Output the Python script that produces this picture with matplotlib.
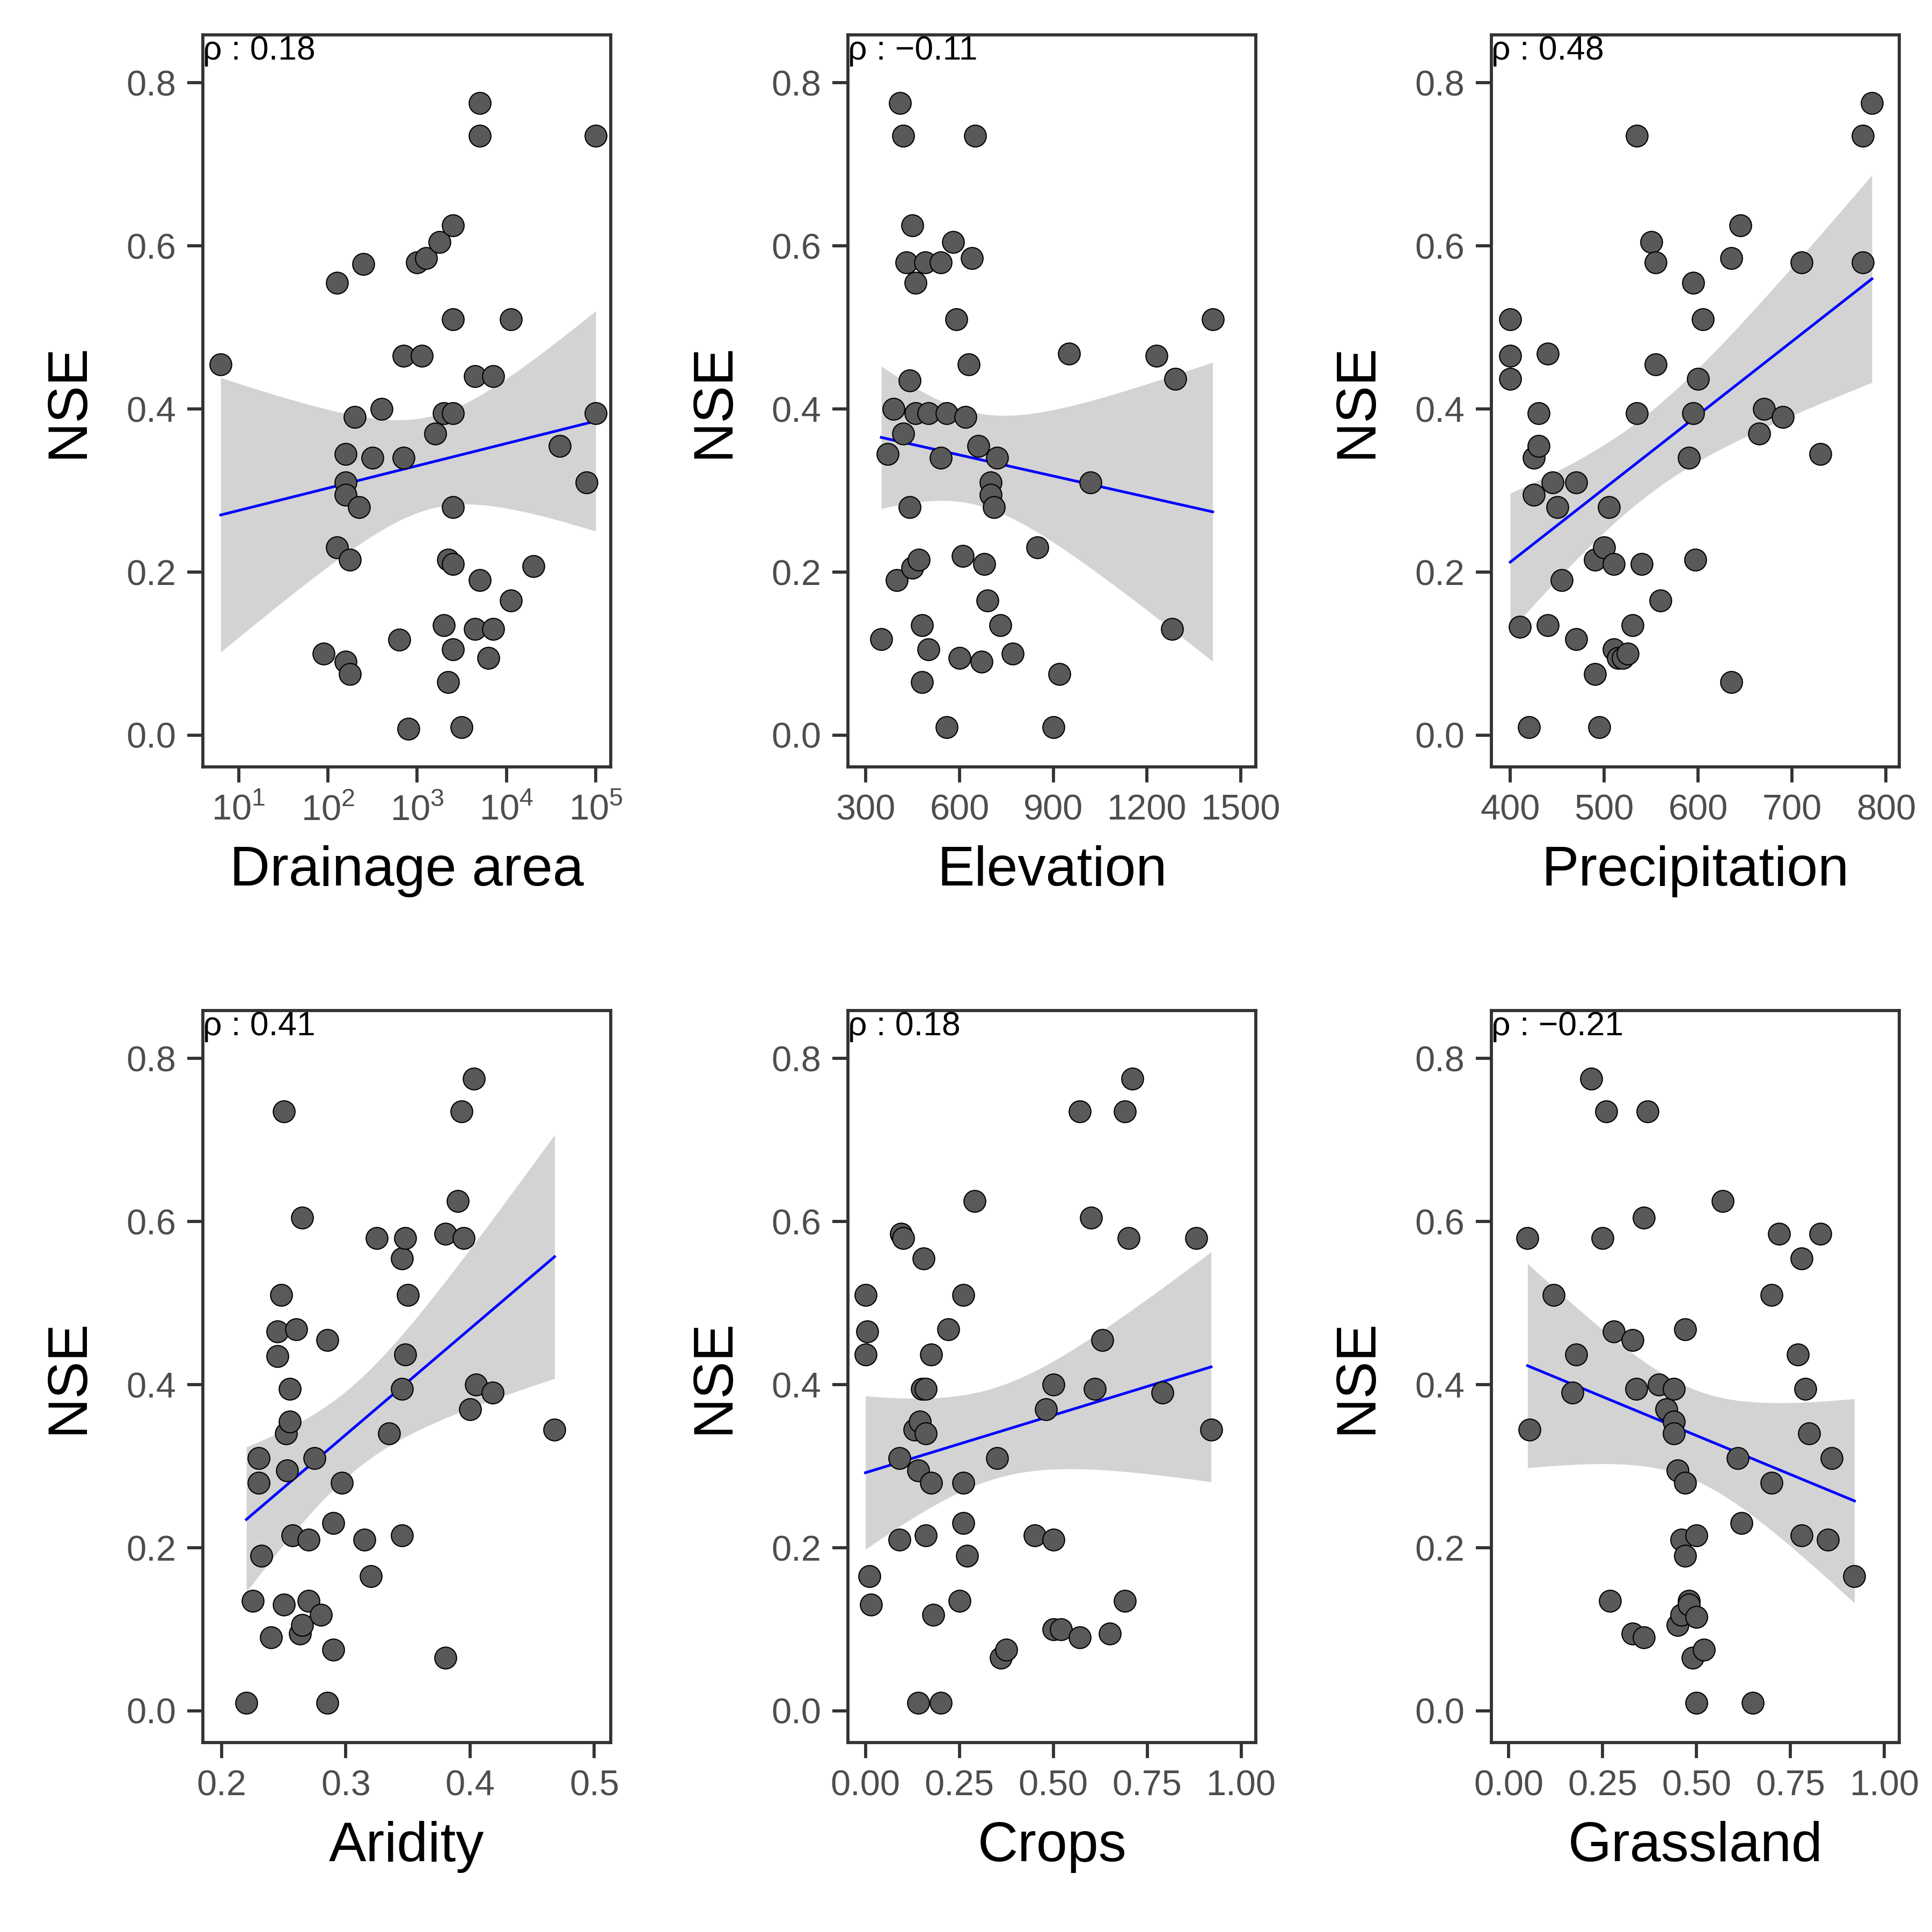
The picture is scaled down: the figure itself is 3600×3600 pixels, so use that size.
import numpy as np
import matplotlib
matplotlib.use("Agg")
import matplotlib.pyplot as plt
plt.rcParams['font.family'] = ['Liberation Sans', 'DejaVu Sans']
plt.rcParams['mathtext.fontset'] = 'custom'
plt.rcParams['mathtext.rm'] = 'Liberation Sans'

area_log = [0.8,2.1,2.4,2.2,2.3,2.5,2.6,2.2,2.2,2.35,2.1,2.25,1.95,2.2,2.25,2.85,2.85,2.8,2.9,3.0,3.1,3.05,3.25,3.4,3.4,3.3,3.4,3.2,3.4,3.35,3.4,3.3,3.4,3.35,3.5,3.7,3.7,3.65,3.65,3.7,3.8,3.85,3.85,4.05,4.05,4.3,4.6,4.9,5.0,5.0]
area_nse = [0.455,0.555,0.578,0.345,0.39,0.34,0.40,0.31,0.295,0.28,0.23,0.215,0.10,0.09,0.075,0.465,0.34,0.117,0.008,0.58,0.585,0.465,0.605,0.625,0.51,0.395,0.395,0.37,0.28,0.215,0.21,0.135,0.105,0.065,0.01,0.775,0.735,0.44,0.13,0.19,0.095,0.13,0.44,0.51,0.165,0.207,0.355,0.31,0.735,0.395]
elev = [350,370,390,400,410,420,420,430,440,440,450,450,460,460,470,480,480,490,500,500,540,540,560,560,580,590,600,610,620,630,640,650,660,670,680,690,700,700,710,720,730,770,850,900,920,950,1020,1230,1280,1290,1410]
elev_nse = [0.118,0.345,0.40,0.19,0.775,0.735,0.37,0.58,0.435,0.28,0.625,0.205,0.555,0.395,0.215,0.135,0.065,0.58,0.105,0.395,0.34,0.58,0.395,0.01,0.605,0.51,0.095,0.22,0.39,0.455,0.585,0.735,0.355,0.09,0.21,0.165,0.31,0.295,0.28,0.34,0.135,0.10,0.23,0.01,0.075,0.468,0.31,0.465,0.13,0.437,0.51]
prec = [400,400,400,410,420,425,425,430,430,440,440,445,450,455,470,470,490,490,495,500,505,510,510,515,520,525,530,535,535,540,550,555,555,560,590,595,595,597,600,605,635,635,645,665,670,690,710,730,775,775,785]
prec_nse = [0.51,0.465,0.437,0.133,0.01,0.295,0.34,0.355,0.395,0.468,0.135,0.31,0.28,0.19,0.118,0.31,0.075,0.215,0.01,0.23,0.28,0.21,0.105,0.095,0.095,0.10,0.135,0.735,0.395,0.21,0.605,0.58,0.455,0.165,0.34,0.555,0.395,0.215,0.437,0.51,0.585,0.065,0.625,0.37,0.40,0.39,0.58,0.345,0.58,0.735,0.775]
arid = [0.22,0.225,0.23,0.23,0.232,0.24,0.245,0.245,0.248,0.25,0.25,0.252,0.253,0.255,0.255,0.257,0.26,0.263,0.265,0.265,0.27,0.27,0.275,0.28,0.285,0.285,0.29,0.29,0.297,0.315,0.32,0.325,0.335,0.345,0.345,0.345,0.348,0.348,0.35,0.38,0.38,0.39,0.393,0.395,0.4,0.403,0.405,0.418,0.468]
arid_nse = [0.01,0.135,0.28,0.31,0.19,0.09,0.465,0.435,0.51,0.735,0.13,0.34,0.295,0.395,0.355,0.215,0.468,0.095,0.605,0.105,0.21,0.135,0.31,0.118,0.455,0.01,0.075,0.23,0.28,0.21,0.165,0.58,0.34,0.555,0.395,0.215,0.437,0.58,0.51,0.585,0.065,0.625,0.735,0.58,0.37,0.775,0.40,0.39,0.345]
crops = [0.0,0.0,0.005,0.01,0.015,0.09,0.09,0.095,0.1,0.13,0.14,0.14,0.145,0.15,0.155,0.16,0.16,0.16,0.175,0.175,0.18,0.2,0.22,0.25,0.26,0.26,0.26,0.27,0.29,0.35,0.36,0.375,0.45,0.48,0.5,0.5,0.5,0.52,0.57,0.57,0.6,0.61,0.63,0.65,0.69,0.69,0.7,0.71,0.79,0.88,0.92]
crops_nse = [0.51,0.437,0.465,0.165,0.13,0.21,0.31,0.585,0.58,0.345,0.295,0.01,0.355,0.395,0.555,0.395,0.34,0.215,0.437,0.28,0.118,0.01,0.468,0.135,0.51,0.23,0.28,0.19,0.625,0.31,0.065,0.075,0.215,0.37,0.10,0.21,0.40,0.10,0.09,0.735,0.605,0.395,0.455,0.095,0.135,0.735,0.58,0.775,0.39,0.58,0.345]
grass = [0.05,0.055,0.12,0.17,0.18,0.22,0.25,0.26,0.27,0.28,0.33,0.33,0.34,0.36,0.36,0.37,0.4,0.42,0.44,0.44,0.44,0.45,0.45,0.46,0.46,0.47,0.47,0.47,0.48,0.48,0.49,0.5,0.5,0.5,0.52,0.57,0.61,0.62,0.65,0.7,0.7,0.72,0.77,0.78,0.78,0.79,0.8,0.83,0.85,0.86,0.92]
grass_nse = [0.58,0.345,0.51,0.39,0.437,0.775,0.58,0.735,0.135,0.465,0.455,0.095,0.395,0.09,0.605,0.735,0.40,0.37,0.395,0.355,0.34,0.295,0.105,0.21,0.118,0.19,0.468,0.28,0.135,0.13,0.065,0.115,0.215,0.01,0.075,0.625,0.31,0.23,0.01,0.28,0.51,0.585,0.437,0.555,0.215,0.395,0.34,0.585,0.21,0.31,0.165]

labels = ["Drainage area", "Elevation", "Precipitation", "Aridity", "Crops", "Grassland"]
rho_labels = ["0.18", "\u22120.11", "0.48", "0.41", "0.18", "\u22120.21"]

panels = [(area_log, area_nse, (0.6, 5.166), [1,2,3,4,5], [r"$10^1$", r"$10^2$", r"$10^3$", r"$10^4$", r"$10^5$"]),
          (elev, elev_nse, (244, 1548), [300,600,900,1200,1500], ["300","600","900","1200","1500"]),
          (prec, prec_nse, (380, 814), [400,500,600,700,800], ["400","500","600","700","800"]),
          (arid, arid_nse, (0.185, 0.513), [0.2,0.3,0.4,0.5], ["0.2","0.3","0.4","0.5"]),
          (crops, crops_nse, (-0.046, 1.039), [0,0.25,0.5,0.75,1], ["0.00","0.25","0.50","0.75","1.00"]),
          (grass, grass_nse, (-0.046, 1.039), [0,0.25,0.5,0.75,1], ["0.00","0.25","0.50","0.75","1.00"])]

fig = plt.figure(figsize=(12, 12), dpi=300)
lefts = [0.105, 0.439, 0.772]
bottoms = [0.603, 0.098]
w, h = 0.211, 0.379
grey = "#4d4d4d"
for i, (x, y, xl, xt, xtl) in enumerate(panels):
    ax = fig.add_axes([lefts[i % 3], bottoms[i // 3], w, h])
    x = np.array(x, float); y = np.array(y, float)
    n = len(x)
    b, a = np.polyfit(x, y, 1)
    xs = np.linspace(x.min(), x.max(), 100)
    yhat = a + b * xs
    resid = y - (a + b * x)
    s = np.sqrt(np.sum(resid**2) / (n - 2))
    se = s * np.sqrt(1/n + (xs - x.mean())**2 / np.sum((x - x.mean())**2))
    ax.fill_between(xs, yhat - 2.01*se, yhat + 2.01*se, color="#d3d3d3", lw=0, zorder=1)
    ax.plot(xs, yhat, color="blue", lw=1.2, zorder=2)
    ax.scatter(x, y, s=95, facecolor="#595959", edgecolor="black", linewidths=0.5, zorder=3)
    ax.set_xlim(*xl); ax.set_ylim(-0.039, 0.859)
    ax.set_xticks(xt); ax.set_xticklabels(xtl)
    ax.set_yticks([0, 0.2, 0.4, 0.6, 0.8]); ax.set_yticklabels(["0.0","0.2","0.4","0.6","0.8"])
    ax.tick_params(direction="out", length=7, width=1.4, labelsize=16, labelcolor=grey, color="#333333", pad=5)
    for sp in ax.spines.values():
        sp.set_linewidth(1.4); sp.set_color("#333333")
    ax.set_xlabel(labels[i], fontsize=25, color="black", labelpad=8)
    ax.set_ylabel("NSE", fontsize=25, color="black", labelpad=14)
    ax.text(0.0, 1.0, "\u03c1 : " + rho_labels[i], transform=ax.transAxes, ha="left", va="top", fontsize=15)

fig.savefig("out.png", dpi=300, facecolor="white")
